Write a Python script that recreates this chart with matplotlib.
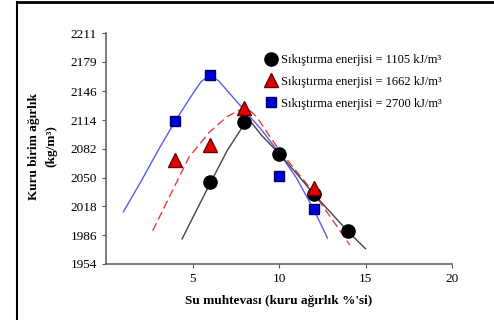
import matplotlib
matplotlib.use("Agg")
import matplotlib.pyplot as plt
from matplotlib.lines import Line2D

plt.rcParams["font.family"] = ["Liberation Serif", "DejaVu Serif"]

# olculen noktalar
x_1105 = [6, 8, 10, 12, 14]
y_1105 = [2045, 2112, 2076, 2032, 1991]
x_1662 = [4, 6, 8, 12]
y_1662 = [2070, 2086, 2128, 2039]
x_2700 = [4, 6, 10, 12]
y_2700 = [2113, 2164, 2052, 2015]

# egriler (resimden okunan noktalar)
cx_1105 = [4.4, 5, 6, 7, 8, 8.3, 9, 10, 11, 12, 13, 14, 15]
cy_1105 = [1982, 2005, 2043, 2080, 2110, 2114, 2097, 2077, 2055, 2032, 2011, 1990, 1971]
cx_1662 = [2.7, 3.85, 4.8, 6.0, 7.0, 7.8, 8.3, 8.7, 10.0, 11.9, 14.1]
cy_1662 = [1991, 2036, 2073, 2101, 2118, 2126, 2125, 2118, 2081, 2036, 1975]
cx_2700 = [1.0, 2.0, 3.0, 4.0, 5.0, 5.5, 6.0, 6.5, 7.0, 8.0, 9.0, 10.0, 11.0, 12.0, 12.8]
cy_2700 = [2012, 2045, 2080, 2113, 2143, 2157, 2164, 2158, 2147, 2125, 2103, 2078, 2050, 2015, 1983]

yticks = [1954, 1986, 2018, 2050, 2082, 2114, 2146, 2179, 2211]
xticks = [5, 10, 15, 20]
labels = ["Sıkıştırma enerjisi = 1105 kJ/m³",
          "Sıkıştırma enerjisi = 1662 kJ/m³",
          "Sıkıştırma enerjisi = 2700 kJ/m³"]

fig = plt.figure(figsize=(4.94, 3.2), dpi=100)
ax = fig.add_axes([106 / 494, 1 - 264 / 320, (452 - 106) / 494, (264 - 33) / 320])

ax.plot(cx_2700, cy_2700, color="#5a5aee", lw=1)
ax.plot(cx_1662, cy_1662, color="#ee3a3a", lw=1, ls=(0, (6, 3)))
ax.plot(cx_1105, cy_1105, color="#444444", lw=1)

ax.plot(x_1105, y_1105, "o", color="black", ms=9.5, ls="none")
ax.plot(x_1662, y_1662, "^", color="#e00000", mec="#700000", ms=9.5, ls="none")
ax.plot(x_2700, y_2700, "s", color="#0000dd", mec="#000060", ms=6.5, ls="none")

ax.set_xlim(0, 20)
ax.set_ylim(1954, 2211)
ax.set_xticks(xticks)
ax.set_yticks(yticks)
ax.tick_params(labelsize=9.5, length=3, color="#555555")
for s in ["top", "right"]:
    ax.spines[s].set_visible(False)
for s in ["left", "bottom"]:
    ax.spines[s].set_color("#666666")
    ax.spines[s].set_linewidth(1.2)

ax.set_xlabel("Su muhtevası (kuru ağırlık %'si)", fontsize=9.5, fontweight="bold", labelpad=7)
fig.text(34 / 494, 1 - 146 / 320, "Kuru birim ağırlık", rotation=90, fontsize=9.5,
         fontweight="bold", ha="center", va="center")
fig.text(51 / 494, 1 - 146 / 320, "(kg/m³)", rotation=90, fontsize=9.5,
         fontweight="bold", ha="center", va="center")

handles = [
    Line2D([], [], marker="o", color="black", ls="none", ms=9.5),
    Line2D([], [], marker="^", color="#e00000", mec="#700000", ls="none", ms=9.5),
    Line2D([], [], marker="s", color="#0000dd", mec="#000060", ls="none", ms=6.5),
]
fig.legend(handles, labels, loc="upper left", bbox_to_anchor=(266 / 494, 1 - 54 / 320),
           frameon=False, fontsize=9, handlelength=0.8, handletextpad=0.4,
           labelspacing=0.78, borderpad=0, borderaxespad=0)

# cerceve
fig.add_artist(Line2D([17 / 494, 17 / 494], [0, 1 - 2 / 320], color="black", lw=1.5))
fig.add_artist(Line2D([17 / 494, 1], [1 - 2 / 320, 1 - 2 / 320], color="black", lw=2))

fig.savefig("out.png", dpi=100)
